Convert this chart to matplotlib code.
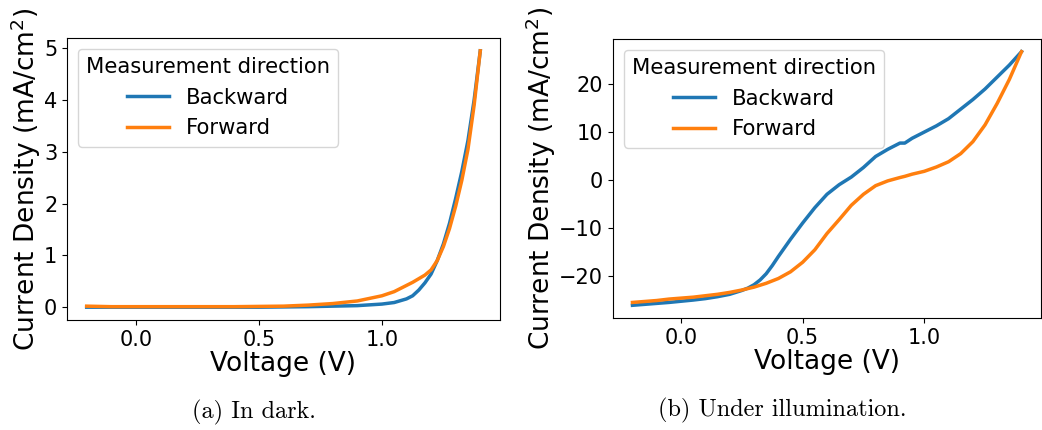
import matplotlib
matplotlib.use('Agg')
import matplotlib.pyplot as plt

# dark J-V
v_dark = [-0.2, -0.1, 0.0, 0.1, 0.2, 0.3, 0.4, 0.5, 0.6, 0.7, 0.8, 0.9,
          1.0, 1.05, 1.1, 1.125, 1.15, 1.175, 1.2, 1.225, 1.25, 1.275,
          1.3, 1.325, 1.35, 1.375, 1.4]
j_dark_back = [0.0, 0.0, 0.0, 0.0, 0.0, 0.0, 0.0, 0.0, 0.005, 0.01, 0.02, 0.03,
               0.06, 0.09, 0.16, 0.22, 0.33, 0.47, 0.64, 0.9, 1.22, 1.62,
               2.1, 2.62, 3.22, 4.0, 4.95]
j_dark_fwd = [0.02, 0.01, 0.01, 0.01, 0.01, 0.01, 0.01, 0.015, 0.02, 0.04, 0.07, 0.12,
              0.22, 0.3, 0.42, 0.48, 0.55, 0.62, 0.72, 0.9, 1.17, 1.52,
              1.95, 2.45, 3.05, 3.9, 4.95]

# illuminated J-V
v_light = [-0.2, -0.15, -0.1, -0.05, 0.0, 0.05, 0.1, 0.15, 0.2, 0.25, 0.275, 0.3, 0.325, 0.35, 0.375,
           0.4, 0.45, 0.5, 0.55, 0.6, 0.65, 0.7, 0.75, 0.8, 0.85, 0.9, 0.92, 0.95,
           1.0, 1.05, 1.1, 1.15, 1.2, 1.25, 1.3, 1.35, 1.4]
j_light_back = [-26.2, -26.0, -25.8, -25.6, -25.35, -25.1, -24.8, -24.4, -23.9, -23.1, -22.6, -21.9, -20.9, -19.6, -17.9,
                -16.0, -12.4, -9.0, -5.8, -3.0, -1.0, 0.6, 2.6, 4.9, 6.4, 7.7, 7.7, 8.7,
                10.0, 11.3, 12.8, 14.8, 16.8, 19.0, 21.5, 24.0, 26.8]
j_light_fwd = [-25.6, -25.4, -25.2, -24.9, -24.7, -24.5, -24.2, -23.9, -23.5, -23.0, -22.7, -22.4, -22.0, -21.6, -21.1,
               -20.6, -19.2, -17.2, -14.6, -11.2, -8.3, -5.3, -3.0, -1.2, -0.2, 0.5, 0.75, 1.2,
               1.8, 2.7, 3.8, 5.5, 8.0, 11.5, 16.0, 21.0, 26.8]

fig = plt.figure(figsize=(10.42, 4.30), dpi=100)
ax1 = fig.add_axes([0.0643, 0.2558, 0.4155, 0.6558])
ax2 = fig.add_axes([0.5883, 0.2605, 0.4107, 0.6488])

for ax, v, jb, jf in [(ax1, v_dark, j_dark_back, j_dark_fwd),
                      (ax2, v_light, j_light_back, j_light_fwd)]:
    ax.plot(v, jb, color='#1f77b4', lw=2.5, label='Backward')
    ax.plot(v, jf, color='#ff7f0e', lw=2.5, label='Forward')
    ax.set_xticks([0.0, 0.5, 1.0])
    ax.tick_params(labelsize=15)
    ax.set_xlabel('Voltage (V)', fontsize=19, labelpad=1)
    ax.set_ylabel('Current Density (mA/cm$^2$)', fontsize=19, labelpad=1)
    leg = ax.legend(title='Measurement direction', loc='upper left', fontsize=15.2,
                    title_fontsize=15.2)

ax1.set_yticks([0, 1, 2, 3, 4, 5])
ax2.set_yticks([-20, -10, 0, 10, 20])

fig.text(0.244, 0.042, '(a) In dark.', ha='center', va='center', fontsize=17.5, family='cmr10')
fig.text(0.751, 0.046, '(b) Under illumination.', ha='center', va='center', fontsize=17.5, family='cmr10')

fig.savefig('out.png', dpi=100)
